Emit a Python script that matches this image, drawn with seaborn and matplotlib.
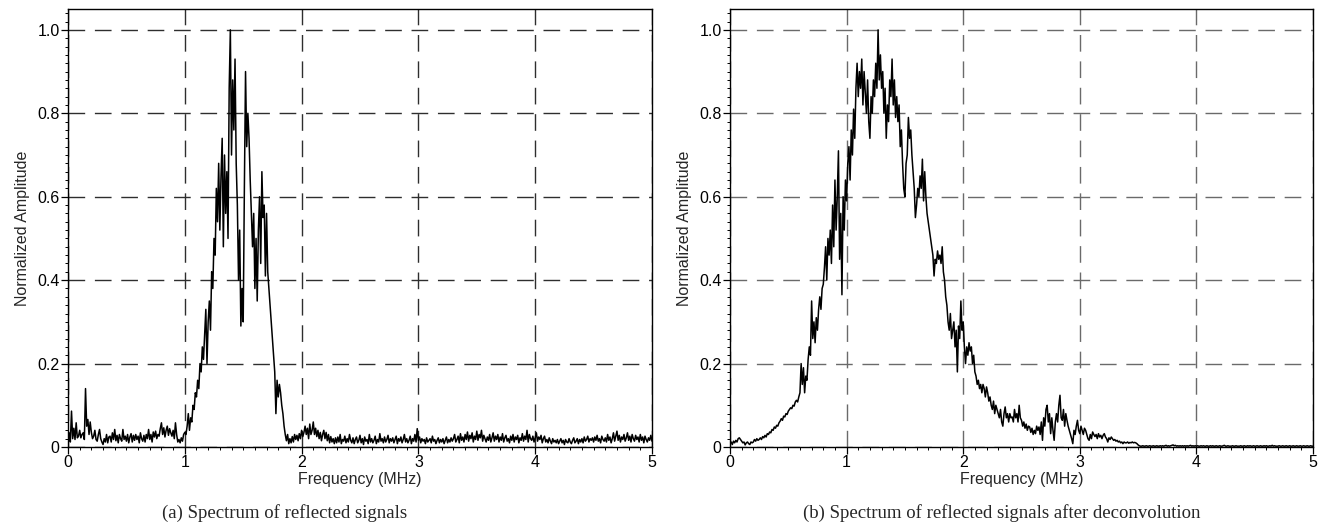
import numpy as np
import pandas as pd
import matplotlib
matplotlib.use("Agg")
import matplotlib.pyplot as plt
import seaborn as sns
from matplotlib.ticker import MultipleLocator

# ---------------- data (0.01 MHz steps) ----------------
freq_step = 0.01

amp_a = [
    0.030, 0.034, 0.012, 0.086, 0.020, 0.045, 0.018, 0.058, 0.022, 0.026,
    0.040, 0.022, 0.030, 0.034, 0.018, 0.140, 0.050, 0.066, 0.030, 0.060,
    0.035, 0.020, 0.026, 0.040, 0.018, 0.014, 0.030, 0.042, 0.020, 0.012,
    0.006, 0.020, 0.012, 0.030, 0.010, 0.024, 0.026, 0.012, 0.034, 0.018,
    0.042, 0.015, 0.028, 0.010, 0.030, 0.020, 0.014, 0.042, 0.018, 0.026,
    0.014, 0.030, 0.010, 0.024, 0.032, 0.012, 0.028, 0.016, 0.030, 0.018,
    0.026, 0.010, 0.034, 0.020, 0.014, 0.028, 0.012, 0.030, 0.020, 0.042,
    0.018, 0.030, 0.012, 0.036, 0.024, 0.038, 0.020, 0.030, 0.026, 0.044,
    0.058, 0.030, 0.046, 0.024, 0.040, 0.050, 0.028, 0.044, 0.034, 0.026,
    0.040, 0.020, 0.058, 0.030, 0.012, 0.018, 0.010, 0.022, 0.014, 0.030,
    0.035, 0.030, 0.050, 0.080, 0.040, 0.070, 0.060, 0.100, 0.090, 0.130,
    0.120, 0.160, 0.140, 0.200, 0.180, 0.240, 0.210, 0.270, 0.330, 0.200,
    0.300, 0.350, 0.280, 0.420, 0.380, 0.500, 0.460, 0.620, 0.540, 0.680,
    0.520, 0.650, 0.740, 0.480, 0.700, 0.560, 0.660, 0.500, 0.860, 1.000,
    0.700, 0.880, 0.760, 0.930, 0.680, 0.580, 0.400, 0.520, 0.290, 0.380,
    0.300, 0.620, 0.900, 0.720, 0.800, 0.740, 0.640, 0.560, 0.480, 0.560,
    0.380, 0.500, 0.350, 0.520, 0.600, 0.440, 0.660, 0.550, 0.580, 0.410,
    0.560, 0.420, 0.380, 0.340, 0.300, 0.260, 0.220, 0.180, 0.080, 0.160,
    0.120, 0.150, 0.130, 0.100, 0.080, 0.050, 0.030, 0.015, 0.030, 0.008,
    0.020, 0.010, 0.025, 0.012, 0.030, 0.018, 0.028, 0.015, 0.032, 0.020,
    0.040, 0.025, 0.035, 0.050, 0.030, 0.045, 0.020, 0.055, 0.030, 0.040,
    0.060, 0.030, 0.045, 0.025, 0.040, 0.020, 0.035, 0.015, 0.030, 0.040,
    0.020, 0.035, 0.015, 0.030, 0.010, 0.025, 0.012, 0.020, 0.008, 0.022,
    0.010, 0.024, 0.012, 0.030, 0.008, 0.018, 0.014, 0.026, 0.010, 0.020,
    0.012, 0.030, 0.016, 0.010, 0.022, 0.008, 0.018, 0.024, 0.010, 0.016,
    0.028, 0.010, 0.020, 0.006, 0.024, 0.014, 0.018, 0.008, 0.030, 0.012,
    0.020, 0.010, 0.016, 0.026, 0.008, 0.018, 0.012, 0.032, 0.014, 0.020,
    0.010, 0.024, 0.012, 0.018, 0.028, 0.010, 0.020, 0.014, 0.022, 0.010,
    0.018, 0.026, 0.008, 0.020, 0.014, 0.024, 0.010, 0.018, 0.030, 0.012,
    0.020, 0.010, 0.016, 0.026, 0.008, 0.020, 0.014, 0.030, 0.012, 0.044,
    0.016, 0.024, 0.010, 0.020, 0.014, 0.018, 0.008, 0.022, 0.012, 0.016,
    0.020, 0.010, 0.026, 0.014, 0.018, 0.008, 0.016, 0.022, 0.010, 0.018,
    0.012, 0.020, 0.008, 0.016, 0.024, 0.010, 0.018, 0.012, 0.022, 0.014,
    0.020, 0.030, 0.012, 0.018, 0.026, 0.010, 0.032, 0.016, 0.024, 0.012,
    0.030, 0.018, 0.036, 0.014, 0.028, 0.020, 0.034, 0.012, 0.026, 0.018,
    0.038, 0.016, 0.030, 0.022, 0.040, 0.014, 0.028, 0.020, 0.012, 0.024,
    0.016, 0.030, 0.012, 0.022, 0.034, 0.014, 0.026, 0.018, 0.030, 0.012,
    0.024, 0.016, 0.032, 0.012, 0.022, 0.028, 0.014, 0.020, 0.010, 0.026,
    0.016, 0.030, 0.012, 0.024, 0.018, 0.028, 0.010, 0.022, 0.016, 0.032,
    0.014, 0.026, 0.018, 0.040, 0.012, 0.030, 0.020, 0.016, 0.026, 0.012,
    0.022, 0.034, 0.014, 0.024, 0.018, 0.028, 0.010, 0.020, 0.026, 0.012,
    0.018, 0.010, 0.022, 0.014, 0.008, 0.020, 0.012, 0.016, 0.010, 0.018,
    0.008, 0.014, 0.020, 0.010, 0.016, 0.006, 0.018, 0.012, 0.010, 0.020,
    0.012, 0.008, 0.016, 0.022, 0.010, 0.014, 0.020, 0.008, 0.018, 0.012,
    0.020, 0.010, 0.024, 0.014, 0.018, 0.026, 0.012, 0.020, 0.016, 0.022,
    0.012, 0.024, 0.016, 0.028, 0.014, 0.020, 0.010, 0.026, 0.018, 0.014,
    0.022, 0.012, 0.030, 0.016, 0.024, 0.010, 0.020, 0.034, 0.014, 0.026,
    0.038, 0.016, 0.028, 0.012, 0.024, 0.018, 0.030, 0.014, 0.022, 0.034,
    0.016, 0.026, 0.012, 0.030, 0.020, 0.014, 0.028, 0.018, 0.024, 0.012,
    0.030, 0.016, 0.024, 0.010, 0.026, 0.018, 0.012, 0.022, 0.016, 0.028,
    0.014,
]

amp_b = [
    0.008, 0.012, 0.006, 0.014, 0.010, 0.016, 0.012, 0.020, 0.022, 0.018,
    0.014, 0.010, 0.012, 0.005, 0.010, 0.012, 0.008, 0.006, 0.012, 0.010,
    0.012, 0.018, 0.014, 0.020, 0.016, 0.018, 0.022, 0.018, 0.025, 0.022,
    0.028, 0.024, 0.032, 0.030, 0.036, 0.034, 0.042, 0.040, 0.048, 0.045,
    0.052, 0.050, 0.058, 0.062, 0.068, 0.064, 0.074, 0.072, 0.080, 0.078,
    0.086, 0.090, 0.094, 0.092, 0.100, 0.098, 0.108, 0.112, 0.108, 0.120,
    0.130, 0.200, 0.150, 0.190, 0.130, 0.170, 0.160, 0.210, 0.240, 0.220,
    0.350, 0.260, 0.300, 0.250, 0.310, 0.280, 0.330, 0.360, 0.330, 0.380,
    0.390, 0.430, 0.480, 0.400, 0.500, 0.460, 0.520, 0.440, 0.580, 0.480,
    0.640, 0.520, 0.600, 0.710, 0.450, 0.560, 0.365, 0.600, 0.520, 0.640,
    0.590, 0.680, 0.720, 0.640, 0.760, 0.700, 0.810, 0.740, 0.860, 0.920,
    0.840, 0.900, 0.860, 0.930, 0.820, 0.900, 0.850, 0.800, 0.880, 0.780,
    0.740, 0.840, 0.800, 0.880, 0.840, 0.920, 0.860, 1.000, 0.880, 0.940,
    0.860, 0.900, 0.800, 0.860, 0.740, 0.820, 0.780, 0.880, 0.840, 0.930,
    0.820, 0.880, 0.790, 0.840, 0.780, 0.820, 0.720, 0.760, 0.680, 0.620,
    0.600, 0.680, 0.700, 0.790, 0.740, 0.760, 0.700, 0.660, 0.620, 0.550,
    0.580, 0.620, 0.600, 0.650, 0.620, 0.690, 0.590, 0.660, 0.600, 0.560,
    0.540, 0.520, 0.500, 0.480, 0.460, 0.410, 0.450, 0.440, 0.470, 0.450,
    0.460, 0.440, 0.480, 0.420, 0.400, 0.360, 0.340, 0.300, 0.280, 0.320,
    0.260, 0.280, 0.300, 0.240, 0.280, 0.180, 0.290, 0.260, 0.350, 0.280,
    0.300, 0.240, 0.200, 0.240, 0.220, 0.250, 0.230, 0.240, 0.200, 0.220,
    0.180, 0.170, 0.150, 0.160, 0.140, 0.150, 0.130, 0.150, 0.140, 0.120,
    0.144, 0.130, 0.110, 0.120, 0.100, 0.090, 0.110, 0.080, 0.100, 0.090,
    0.080, 0.070, 0.090, 0.060, 0.050, 0.080, 0.096, 0.070, 0.080, 0.060,
    0.080, 0.070, 0.072, 0.060, 0.090, 0.070, 0.080, 0.060, 0.100, 0.070,
    0.064, 0.050, 0.060, 0.045, 0.055, 0.040, 0.050, 0.048, 0.035, 0.045,
    0.030, 0.040, 0.032, 0.050, 0.040, 0.048, 0.030, 0.060, 0.016, 0.070,
    0.050, 0.090, 0.100, 0.060, 0.080, 0.032, 0.070, 0.040, 0.016, 0.060,
    0.080, 0.060, 0.100, 0.124, 0.070, 0.064, 0.090, 0.050, 0.080, 0.064,
    0.050, 0.040, 0.030, 0.020, 0.008, 0.040, 0.030, 0.050, 0.064, 0.040,
    0.032, 0.050, 0.040, 0.030, 0.045, 0.040, 0.030, 0.020, 0.016, 0.030,
    0.020, 0.036, 0.030, 0.025, 0.030, 0.020, 0.032, 0.024, 0.028, 0.020,
    0.028, 0.032, 0.024, 0.020, 0.012, 0.022, 0.018, 0.024, 0.020, 0.016,
    0.018, 0.014, 0.016, 0.012, 0.014, 0.010, 0.012, 0.008, 0.012, 0.010,
    0.010, 0.012, 0.009, 0.011, 0.010, 0.012, 0.010, 0.011, 0.010, 0.008,
    0.005, 0.003, 0.002, 0.002, 0.003, 0.002, 0.002, 0.003, 0.002, 0.002,
    0.003, 0.002, 0.002, 0.003, 0.002, 0.002, 0.003, 0.002, 0.002, 0.003,
    0.002, 0.003, 0.002, 0.003, 0.004, 0.002, 0.003, 0.002, 0.003, 0.004,
    0.005, 0.003, 0.004, 0.002, 0.003, 0.002, 0.003, 0.002, 0.003, 0.002,
    0.003, 0.002, 0.003, 0.002, 0.003, 0.004, 0.002, 0.003, 0.002, 0.003,
    0.002, 0.003, 0.002, 0.002, 0.003, 0.002, 0.003, 0.002, 0.002, 0.003,
    0.002, 0.002, 0.003, 0.002, 0.003, 0.002, 0.002, 0.003, 0.002, 0.002,
    0.003, 0.002, 0.002, 0.003, 0.004, 0.002, 0.002, 0.003, 0.002, 0.002,
    0.002, 0.003, 0.002, 0.002, 0.003, 0.002, 0.002, 0.002, 0.003, 0.002,
    0.002, 0.003, 0.002, 0.002, 0.003, 0.002, 0.003, 0.002, 0.002, 0.003,
    0.002, 0.002, 0.003, 0.002, 0.002, 0.003, 0.002, 0.002, 0.003, 0.002,
    0.003, 0.002, 0.002, 0.003, 0.002, 0.004, 0.002, 0.003, 0.002, 0.002,
    0.002, 0.003, 0.002, 0.002, 0.003, 0.002, 0.002, 0.003, 0.002, 0.002,
    0.003, 0.002, 0.002, 0.003, 0.002, 0.002, 0.003, 0.002, 0.002, 0.003,
    0.002, 0.002, 0.003, 0.002, 0.002, 0.003, 0.002, 0.002, 0.003, 0.002,
    0.002,
]

x_ticks = [0, 1, 2, 3, 4, 5]
x_tick_labels = ["0", "1", "2", "3", "4", "5"]
y_ticks = [0, 0.2, 0.4, 0.6, 0.8, 1.0]
y_tick_labels = ["0", "0.2", "0.4", "0.6", "0.8", "1.0"]
x_label = "Frequency (MHz)"
y_label = "Normalized Amplitude"
captions = ["(a) Spectrum of reflected signals",
            "(b) Spectrum of reflected signals after deconvolution"]

# ---------------- figure ----------------
sns.set_theme(style="white")
plt.rcParams["font.family"] = ["Liberation Sans", "DejaVu Sans"]

W, H = 1327, 529
fig = plt.figure(figsize=(W / 100, H / 100), dpi=100)

def px_axes(x0, x1, ytop, ybot):
    return fig.add_axes([x0 / W, (H - ybot) / H, (x1 - x0) / W, (ybot - ytop) / H])

panels = [
    (amp_a, px_axes(68, 652, 9, 447), "#2e2e2e", 285, captions[0]),
    (amp_b, px_axes(730, 1313, 9, 447), "#6a6a6a", 1002, captions[1]),
]

for amps, ax, gcol, cap_x, cap in panels:
    df = pd.DataFrame({"freq": np.arange(len(amps)) * freq_step, "amp": amps})
    sns.lineplot(data=df, x="freq", y="amp", ax=ax, color="black",
                 linewidth=1.1, estimator=None, sort=False)
    ax.set_xlim(0, 5)
    ax.set_ylim(0, 1.05)
    ax.set_xticks(x_ticks)
    ax.set_xticklabels(x_tick_labels)
    ax.set_yticks(y_ticks)
    ax.set_yticklabels(y_tick_labels)
    ax.xaxis.set_minor_locator(MultipleLocator(0.1))
    ax.yaxis.set_minor_locator(MultipleLocator(0.02))
    ax.tick_params(axis="both", which="major", direction="out", length=5,
                   width=0.9, colors="black", labelsize=11.5, pad=1,
                   bottom=True, left=True)
    ax.tick_params(axis="both", which="minor", direction="out", length=2.5,
                   width=0.7, colors="black", bottom=True, left=True)
    ax.grid(True, which="major", color=gcol, linewidth=1.0,
            linestyle=(0, (12, 7)))
    ax.set_axisbelow(True)
    for s in ax.spines.values():
        s.set_visible(True)
        s.set_color("black")
        s.set_linewidth(1.0)
    ax.set_xlabel(x_label, fontsize=11.5, labelpad=1)
    ax.set_ylabel(y_label, fontsize=11.5, labelpad=5)
    fig.text(cap_x / W, (H - 513) / H, cap,
             ha="center", va="center", fontsize=13.5,
             family=["Liberation Serif", "DejaVu Serif"])

fig.savefig("out.png", dpi=100)
